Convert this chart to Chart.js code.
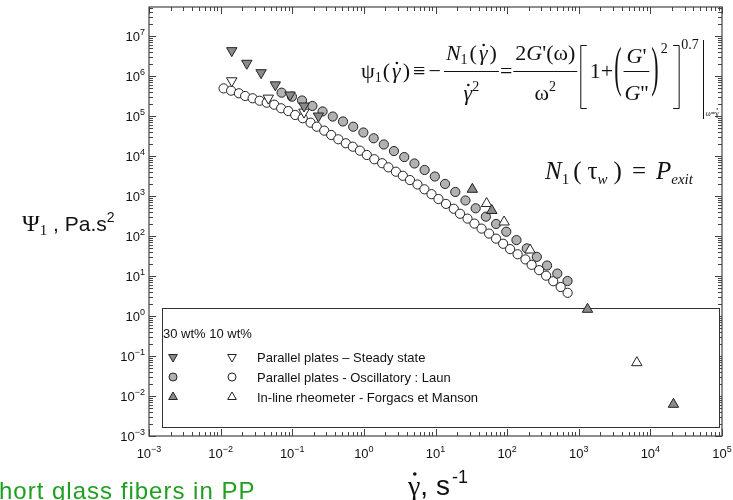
<!DOCTYPE html>
<html>
<head>
<meta charset="utf-8">
<script src="https://cdn.jsdelivr.net/npm/chart.js@4/dist/chart.umd.min.js"></script>
<style>
  html, body { margin: 0; padding: 0; background: #fff; }
</style>
</head>
<body>
<canvas id="chart" width="733" height="500"></canvas>
<script>
const xTickExps = [-3, -2, -1, 0, 1, 2, 3, 4, 5]
const yTickExps = [-3, -2, -1, 0, 1, 2, 3, 4, 5, 6, 7]

// parallel plates, steady state
const steady30X = [0.0143, 0.0232, 0.0367, 0.058, 0.0931, 0.146, 0.232]
const steady30Y = [4.3e6, 2.08e6, 1.21e6, 6.0e5, 3.35e5, 1.78e5, 1.0e5]
const steady10X = [0.0143, 0.0463, 0.146]
const steady10Y = [7.6e5, 2.8e5, 1.25e5]

// parallel plates, oscillatory (Laun)
const osc30X = [0.071, 0.099, 0.137, 0.191, 0.265, 0.368, 0.511, 0.709, 0.984, 1.37, 1.9, 2.63, 3.66, 5.08, 7.05, 9.78,
  13.6, 18.9, 26.2, 36.4, 50.5, 70.1, 97.3, 135, 188, 260, 361, 502, 697]
const osc30Y = [3.83e5, 3.04e5, 2.44e5, 1.78e5, 1.3e5, 9.7e4, 7.3e4, 5.4e4, 3.87e4, 2.77e4, 1.94e4, 1.33e4, 9.4e3, 6.5e3,
  4.47e3, 3.07e3, 2.0e3, 1.26e3, 772, 493, 304, 200, 128, 79, 49, 30, 18.3, 11.5, 7.5]
const osc10X = [0.011, 0.014, 0.018, 0.022, 0.028, 0.035, 0.044, 0.056, 0.07, 0.088, 0.11, 0.14, 0.18, 0.22, 0.28, 0.35,
  0.44, 0.56, 0.7, 0.88, 1.1, 1.4, 1.8, 2.2, 2.8, 3.5, 4.4, 5.6, 7, 8.8, 11, 14, 18, 22, 28, 35, 44, 56, 70, 88,
  110, 140, 180, 220, 280, 350, 440, 560, 700]
const osc10Y = [4.9e5, 4.3e5, 3.7e5, 3.16e5, 2.77e5, 2.41e5, 2.15e5, 1.92e5, 1.56e5, 1.33e5, 1.06e5, 8.8e4, 6.8e4, 5.4e4,
  4.3e4, 3.35e4, 2.62e4, 2.08e4, 1.71e4, 1.36e4, 1.06e4, 8.3e3, 6.6e3, 5.2e3, 4.05e3, 3.2e3, 2.5e3, 1.94e3, 1.47e3,
  1.11e3, 840, 635, 480, 360, 272, 204, 153, 115, 86, 64, 47, 35, 26, 19, 14, 10.2, 7.4, 5.3, 3.8]

// in-line rheometer (Forgacs et Manson)
const inline30X = [32.7, 61.1, 1325, 21000]
const inline30Y = [1470, 434, 1.47, 0.0062]
const inline10X = [51.7, 90.8, 209, 6470]
const inline10Y = [650, 224, 44.7, 0.068]

const SANS = '"Liberation Sans", Arial, sans-serif'
const SERIF = '"Liberation Serif", "Times New Roman", serif'
const DARK_GRAY = '#8a8a8a'
const LIGHT_GRAY = '#b2b2b2'

function points(xs, ys) {
  return xs.map((x, i) => ({ x: x, y: ys[i] }))
}

// parts: { t: text, f: font, dx, dy, dot: draw a dot over the glyph }
function drawParts(ctx, x, y, parts) {
  for (const p of parts) {
    ctx.font = p.f
    x += p.dx || 0
    const w = ctx.measureText(p.t).width
    ctx.fillText(p.t, x, y + (p.dy || 0))
    if (p.dot) {
      ctx.beginPath()
      ctx.arc(x + w * 0.55, y + (p.dy || 0) - p.dot, p.dotR || 1.3, 0, Math.PI * 2)
      ctx.fill()
    }
    x += w
  }
  return x
}

function partsWidth(ctx, parts) {
  let w = 0
  for (const p of parts) {
    ctx.font = p.f
    w += (p.dx || 0) + ctx.measureText(p.t).width
  }
  return w
}

function drawFrac(ctx, x, base, num, den, pad, numUp, denDown) {
  const wn = partsWidth(ctx, num)
  const wd = partsWidth(ctx, den)
  const w = Math.max(wn, wd) + 2 * pad
  drawParts(ctx, x + (w - wn) / 2, base - numUp, num)
  drawParts(ctx, x + (w - wd) / 2, base + denDown, den)
  ctx.fillRect(x, base - 7, w, 1)
  return x + w
}

function tallGlyph(ctx, t, x, yc, size, stretch) {
  ctx.save()
  ctx.font = size + 'px ' + SERIF
  const w = ctx.measureText(t).width
  ctx.translate(x, yc)
  ctx.scale(1, stretch)
  ctx.textBaseline = 'middle'
  ctx.fillText(t, 0, 0)
  ctx.restore()
  return x + w
}

function bracket(ctx, x, top, bottom, left) {
  ctx.beginPath()
  if (left) {
    ctx.moveTo(x + 6, top); ctx.lineTo(x, top); ctx.lineTo(x, bottom); ctx.lineTo(x + 6, bottom)
  } else {
    ctx.moveTo(x, top); ctx.lineTo(x + 6, top); ctx.lineTo(x + 6, bottom); ctx.lineTo(x, bottom)
  }
  ctx.stroke()
  return x + 8
}

function pow10(ctx, x, y, exp, size, align) {
  const base = size + 'px ' + SANS
  const sup = Math.round(size * 0.7) + 'px ' + SANS
  const parts = [{ t: '10', f: base }, { t: String(exp).replace('-', '\u2212'), f: sup, dy: -size * 0.45 }]
  const w = partsWidth(ctx, parts)
  let sx = x
  if (align === 'right') sx = x - w
  if (align === 'center') sx = x - w / 2
  drawParts(ctx, sx, y, parts)
}

const decorations = {
  id: 'decorations',
  beforeDatasetsDraw(chart) {
    const { ctx, chartArea: a, scales: { x, y } } = chart
    ctx.save()

    // frame + inward ticks on all four sides
    ctx.strokeStyle = '#444'
    ctx.lineWidth = 1.2
    ctx.strokeRect(a.left, a.top, a.right - a.left, a.bottom - a.top)
    ctx.lineWidth = 1
    ctx.beginPath()
    for (const e of xTickExps) {
      for (let m = 1; m <= 9; m++) {
        const v = m * Math.pow(10, e)
        if (v > x.max * 1.0001) continue
        const px = Math.round(x.getPixelForValue(v)) + 0.5
        const len = m === 1 ? 7 : 4
        ctx.moveTo(px, a.bottom); ctx.lineTo(px, a.bottom - len)
        ctx.moveTo(px, a.top); ctx.lineTo(px, a.top + len)
      }
    }
    for (const e of yTickExps.concat([8])) {
      for (let m = 1; m <= 9; m++) {
        const v = m * Math.pow(10, e)
        if (v > y.max || v < y.min * 0.9999) continue
        const py = Math.round(y.getPixelForValue(v)) + 0.5
        const len = m === 1 ? 7 : 4
        ctx.moveTo(a.left, py); ctx.lineTo(a.left + len, py)
        ctx.moveTo(a.right, py); ctx.lineTo(a.right - len, py)
      }
    }
    ctx.stroke()

    // tick labels
    ctx.fillStyle = '#111'
    ctx.textBaseline = 'alphabetic'
    for (const e of xTickExps) {
      pow10(ctx, x.getPixelForValue(Math.pow(10, e)), a.bottom + 22, e, 13, 'center')
    }
    for (const e of yTickExps) {
      pow10(ctx, a.left - 4, y.getPixelForValue(Math.pow(10, e)) + 5, e, 13, 'right')
    }

    // legend box
    ctx.fillStyle = '#fff'
    ctx.fillRect(162, 308, 557, 119)
    ctx.strokeStyle = '#333'
    ctx.strokeRect(162.5, 308.5, 557, 119)
    ctx.fillStyle = '#111'
    ctx.font = '13px ' + SANS
    ctx.fillText('30 wt% 10 wt%', 163, 338)
    const rows = [
      { style: 'triangle', rot: 180, fill: DARK_GRAY, r: 5, label: 'Parallel plates \u2013 Steady state' },
      { style: 'circle', rot: 0, fill: LIGHT_GRAY, r: 4, label: 'Parallel plates - Oscillatory : Laun' },
      { style: 'triangle', rot: 0, fill: DARK_GRAY, r: 5, label: 'In-line rheometer - Forgacs et Manson' }
    ]
    rows.forEach((row, i) => {
      const ry = 357 + i * 20
      ctx.strokeStyle = '#222'
      ctx.lineWidth = 1
      ctx.fillStyle = row.fill
      Chart.helpers.drawPoint(ctx, { pointStyle: row.style, radius: row.r, rotation: row.rot, borderWidth: 1 }, 173, ry)
      ctx.fillStyle = '#fff'
      Chart.helpers.drawPoint(ctx, { pointStyle: row.style, radius: row.r, rotation: row.rot, borderWidth: 1 }, 232, ry)
      ctx.fillStyle = '#111'
      ctx.font = '13px ' + SANS
      ctx.fillText(row.label, 257, ry + 5)
    })
    ctx.restore()
  },
  afterDraw(chart) {
    const { ctx } = chart
    ctx.save()
    ctx.fillStyle = '#111'
    ctx.strokeStyle = '#111'
    ctx.lineWidth = 1
    ctx.textBaseline = 'alphabetic'

    const M = '22px ' + SERIF
    const I = 'italic 22px ' + SERIF
    const S = '14px ' + SERIF
    const B = 78
    let cx = 361
    cx = drawParts(ctx, cx, B, [
      { t: '\u03c8', f: M }, { t: '1', f: S, dy: 4 }, { t: '(', f: M, dx: 1 }, { t: '\u03b3', f: I, dx: 2, dot: 15 },
      { t: ')', f: M, dx: 2 }, { t: '\u2261', f: M, dx: 3 }, { t: '\u2212', f: M, dx: 3 }
    ])
    cx = drawFrac(ctx, cx + 3, B, [
      { t: 'N', f: I }, { t: '1', f: S, dy: 4 }, { t: '(', f: M, dx: 2 }, { t: '\u03b3', f: I, dx: 2, dot: 15 },
      { t: ')', f: M, dx: 2 }
    ], [{ t: '\u03b3', f: I, dot: 15 }, { t: '2', f: S, dy: -9 }], 2, 18, 22)
    cx = drawParts(ctx, cx + 1, B, [{ t: '=', f: M }])
    cx = drawFrac(ctx, cx + 1, B, [
      { t: '2', f: M }, { t: 'G', f: I }, { t: '\'(\u03c9)', f: M }
    ], [{ t: '\u03c9', f: M }, { t: '2', f: S, dy: -9 }], 2, 18, 22)
    cx = bracket(ctx, cx + 3.5, B - 32.5, B + 30.5, true)
    cx = drawParts(ctx, cx + 1, B, [{ t: '1+', f: M }])
    cx = tallGlyph(ctx, '(', cx + 1, B - 7, 22, 2.5)
    cx = drawFrac(ctx, cx + 2, B, [{ t: 'G', f: I }, { t: '\'', f: M }],
      [{ t: 'G', f: I }, { t: '\'\'', f: M }], 1, 15, 22)
    cx = tallGlyph(ctx, ')', cx + 2, B - 7, 22, 2.5)
    cx = drawParts(ctx, cx + 2, B - 25, [{ t: '2', f: S }])
    cx = bracket(ctx, cx + 5.5, B - 32.5, B + 30.5, false)
    cx = drawParts(ctx, cx, B - 29, [{ t: '0.7', f: S }])
    const bx = Math.round(cx + 4) + 0.5
    ctx.beginPath(); ctx.moveTo(bx, B - 38); ctx.lineTo(bx, B + 41); ctx.stroke()
    drawParts(ctx, bx + 2, B + 38, [{ t: '\u03c9=', f: '8px ' + SERIF }, { t: '\u03b3', f: '8px ' + SERIF, dot: 7, dotR: 0.7 }])

    // second relation
    const L = '25px ' + SERIF
    const LI = 'italic 25px ' + SERIF
    drawParts(ctx, 545, 179, [
      { t: 'N', f: LI }, { t: '1', f: '15px ' + SERIF, dy: 5 }, { t: '(', f: L, dx: 4 }, { t: '\u03c4', f: L, dx: 6 },
      { t: 'w', f: 'italic 15px ' + SERIF, dy: 5 }, { t: ')', f: L, dx: 6 }, { t: '=', f: L, dx: 10 },
      { t: 'P', f: LI, dx: 10 }, { t: 'exit', f: 'italic 15px ' + SERIF, dy: 5 }
    ])

    // axis titles
    drawParts(ctx, 22, 231, [
      { t: '\u03a8', f: '24px ' + SERIF }, { t: '1', f: '15px ' + SERIF, dy: 4 },
      { t: ' , Pa.s', f: '21px ' + SANS }, { t: '2', f: '14px ' + SANS, dy: -9 }
    ])
    drawParts(ctx, 408, 495, [
      { t: '\u03b3', f: '28px ' + SERIF, dot: 21, dotR: 1.8 }, { t: ', s', f: '28px ' + SANS },
      { t: '-1', f: '18px ' + SANS, dy: -12, dx: 2 }
    ])
    ctx.fillStyle = '#1f9f1f'
    ctx.letterSpacing = '1px'
    drawParts(ctx, -1, 499, [{ t: 'hort glass fibers in PP', f: '24px ' + SANS }])
    ctx.letterSpacing = '0px'
    ctx.restore()
  }
}

const ctx = document.getElementById('chart').getContext('2d')
new Chart(ctx, {
  type: 'scatter',
  data: {
    datasets: [
      { label: '30 wt% steady', data: points(steady30X, steady30Y), pointStyle: 'triangle', rotation: 180,
        pointRadius: 6, backgroundColor: DARK_GRAY, borderColor: '#222', borderWidth: 1, order: 1 },
      { label: '10 wt% steady', data: points(steady10X, steady10Y), pointStyle: 'triangle', rotation: 180,
        pointRadius: 6, backgroundColor: '#fff', borderColor: '#222', borderWidth: 1, order: 2 },
      { label: '30 wt% in-line', data: points(inline30X, inline30Y), pointStyle: 'triangle',
        pointRadius: 6, backgroundColor: DARK_GRAY, borderColor: '#222', borderWidth: 1, order: 3 },
      { label: '10 wt% in-line', data: points(inline10X, inline10Y), pointStyle: 'triangle',
        pointRadius: 6, backgroundColor: '#fff', borderColor: '#222', borderWidth: 1, order: 4 },
      { label: '30 wt% oscillatory', data: points(osc30X, osc30Y), pointStyle: 'circle',
        pointRadius: 4.6, backgroundColor: LIGHT_GRAY, borderColor: '#222', borderWidth: 1, order: 5 },
      { label: '10 wt% oscillatory', data: points(osc10X, osc10Y), pointStyle: 'circle',
        pointRadius: 4.6, backgroundColor: '#fff', borderColor: '#222', borderWidth: 1, order: 6 }
    ]
  },
  options: {
    responsive: false,
    animation: false,
    layout: { padding: { left: 149, right: 11, top: 7, bottom: 64 } },
    scales: {
      x: { type: 'logarithmic', min: 1e-3, max: 1e5, display: false },
      y: { type: 'logarithmic', min: 1e-3, max: Math.pow(10, 7.725), display: false }
    },
    plugins: {
      legend: { display: false },
      tooltip: { enabled: false }
    }
  },
  plugins: [decorations]
})
</script>
</body>
</html>
